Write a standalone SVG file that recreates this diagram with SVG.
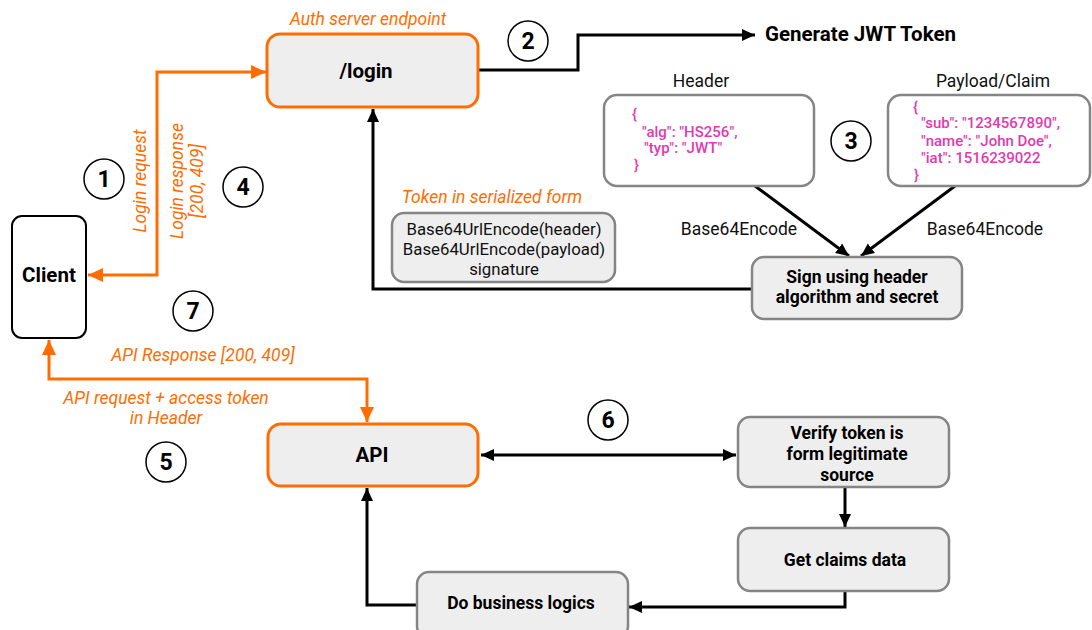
<svg xmlns="http://www.w3.org/2000/svg" width="1092" height="630" viewBox="0 0 1092 630">
<style>
text{font-family:Roboto,"Liberation Sans",sans-serif;}
.b{font-weight:bold;fill:#000;}
.lbl{font-size:17.5px;fill:#111;}
.tk{font-size:16.8px;fill:#111;}
.or{font-size:17.5px;font-style:italic;fill:#ff6d00;}
.js{font-size:15px;font-weight:500;fill:#e23aae;}
.orbox{fill:#eeeeee;stroke:#ff6d00;stroke-width:3;}
.gbox{fill:#eeeeee;stroke:#858585;stroke-width:2.5;}
.wbox{fill:#ffffff;stroke:#858585;stroke-width:2.5;}
.num{fill:#fff;stroke:#000;stroke-width:1.5;}
.numt{font-size:23px;font-weight:bold;text-anchor:middle;}
.c{fill:none;stroke:#000;stroke-width:3;}
.co{fill:none;stroke:#ff6d00;stroke-width:3;}
.bx{font-size:17.5px;}
.big{font-size:20.5px;}
</style>
<defs>
<marker id="ab" markerUnits="userSpaceOnUse" markerWidth="14" markerHeight="14" viewBox="0 0 14 14" refX="13" refY="7" orient="auto-start-reverse"><path d="M0,1 L13,7 L0,13 Z" fill="#000"/></marker>
<marker id="ao" markerUnits="userSpaceOnUse" markerWidth="16" markerHeight="16" viewBox="0 0 16 16" refX="15" refY="8" orient="auto-start-reverse"><path d="M0,1 L15,8 L0,15 Z" fill="#ff6d00"/></marker>
</defs>
<rect width="1092" height="630" fill="#fff"/>

<g id="connectors">
<path class="co" d="M88 275 H157 V72 H266" marker-start="url(#ao)" marker-end="url(#ao)"/>
<path class="c" d="M478 70 H578 V35 H755" marker-end="url(#ab)"/>
<path class="c" d="M755 186 L849 256" marker-end="url(#ab)"/>
<path class="c" d="M955 186 L861 256" marker-end="url(#ab)"/>
<path class="c" d="M752 289 H373 V109" marker-end="url(#ab)"/>
<path class="co" d="M49 340 V379 H367 V422" marker-start="url(#ao)" marker-end="url(#ao)"/>
<path class="c" d="M481 455 H736" marker-start="url(#ab)" marker-end="url(#ab)"/>
<path class="c" d="M845 488 V527" marker-end="url(#ab)"/>
<path class="c" d="M845 592 V607 H629" marker-end="url(#ab)"/>
<path class="c" d="M417 605 H367 V488" marker-end="url(#ab)"/>
</g>

<g id="login">
<rect class="orbox" x="267" y="34" width="211" height="73" rx="13"/>
<text class="b big" x="366" y="78" text-anchor="middle">/login</text>
<text class="or" x="368" y="25" text-anchor="middle">Auth server endpoint</text>
</g>

<g id="client">
<rect x="12" y="216" width="74" height="122" rx="10" fill="#fff" stroke="#000" stroke-width="2"/>
<text class="b big" x="49" y="282" text-anchor="middle">Client</text>
</g>

<g id="login-labels">
<text class="or" transform="translate(146,181) rotate(-90)" text-anchor="middle">Login request</text>
<text class="or" transform="translate(183,181) rotate(-90)" text-anchor="middle">Login response</text>
<text class="or" transform="translate(203,181) rotate(-90)" text-anchor="middle">[200, 409]</text>
</g>

<g id="generate">
<text class="b big" x="765" y="41">Generate JWT Token</text>
</g>

<g id="header">
<text class="lbl" x="701" y="87" text-anchor="middle">Header</text>
<rect class="wbox" x="604" y="95" width="210" height="91" rx="13"/>
<text class="js" x="632" y="119">{</text>
<text class="js" x="642" y="137">"alg": "HS256",</text>
<text class="js" x="644" y="153">"typ": "JWT"</text>
<text class="js" x="634" y="170">}</text>
</g>

<g id="payload">
<text class="lbl" x="993" y="87" text-anchor="middle">Payload/Claim</text>
<rect class="wbox" x="888" y="95" width="202" height="91" rx="13"/>
<text class="js" x="913" y="112">{</text>
<text class="js" x="921" y="128">"sub": "1234567890",</text>
<text class="js" x="921" y="146">"name": "John Doe",</text>
<text class="js" x="921" y="163">"iat": 1516239022</text>
<text class="js" x="914" y="180">}</text>
</g>

<g id="encode-labels">
<text class="lbl" x="739" y="235" text-anchor="middle">Base64Encode</text>
<text class="lbl" x="985" y="235" text-anchor="middle">Base64Encode</text>
</g>

<g id="sign">
<rect class="gbox" x="752" y="257" width="210" height="62" rx="12"/>
<text class="b bx" x="857" y="283" text-anchor="middle">Sign using header</text>
<text class="b bx" x="857" y="303" text-anchor="middle">algorithm and secret</text>
</g>

<g id="token">
<text class="or" x="492" y="203" text-anchor="middle">Token in serialized form</text>
<rect class="gbox" x="392" y="213" width="223" height="69" rx="12"/>
<text class="tk" x="504" y="235" text-anchor="middle">Base64UrlEncode(header)</text>
<text class="tk" x="504" y="255" text-anchor="middle">Base64UrlEncode(payload)</text>
<text class="tk" x="504" y="275" text-anchor="middle">signature</text>
</g>

<g id="api-labels">
<text class="or" x="203" y="361" text-anchor="middle">API Response [200, 409]</text>
<text class="or" x="166" y="404" text-anchor="middle">API request + access token</text>
<text class="or" x="166" y="424" text-anchor="middle">in Header</text>
</g>

<g id="api">
<rect class="orbox" x="268" y="424" width="210" height="62" rx="13"/>
<text class="b big" x="372" y="462" text-anchor="middle">API</text>
</g>

<g id="verify">
<rect class="gbox" x="738" y="417" width="211" height="70" rx="12"/>
<text class="b bx" x="847" y="439" text-anchor="middle">Verify token is</text>
<text class="b bx" x="847" y="460" text-anchor="middle">form legitimate</text>
<text class="b bx" x="847" y="481" text-anchor="middle">source</text>
</g>

<g id="claims">
<rect class="gbox" x="738" y="528" width="211" height="63" rx="12"/>
<text class="b bx" x="845" y="566" text-anchor="middle">Get claims data</text>
</g>

<g id="business">
<rect class="gbox" x="417" y="572" width="211" height="66" rx="12"/>
<text class="b bx" x="521" y="609" text-anchor="middle">Do business logics</text>
</g>

<g id="steps">
<circle class="num" cx="104" cy="179" r="20"/><text class="numt" x="104" y="187">1</text>
<circle class="num" cx="528" cy="41" r="20"/><text class="numt" x="528" y="49">2</text>
<circle class="num" cx="851" cy="141" r="20"/><text class="numt" x="851" y="149">3</text>
<circle class="num" cx="243" cy="187" r="20"/><text class="numt" x="243" y="195">4</text>
<circle class="num" cx="166" cy="462" r="20"/><text class="numt" x="166" y="470">5</text>
<circle class="num" cx="608" cy="420" r="20"/><text class="numt" x="608" y="428">6</text>
<circle class="num" cx="193" cy="311" r="20"/><text class="numt" x="193" y="319">7</text>
</g>
</svg>
